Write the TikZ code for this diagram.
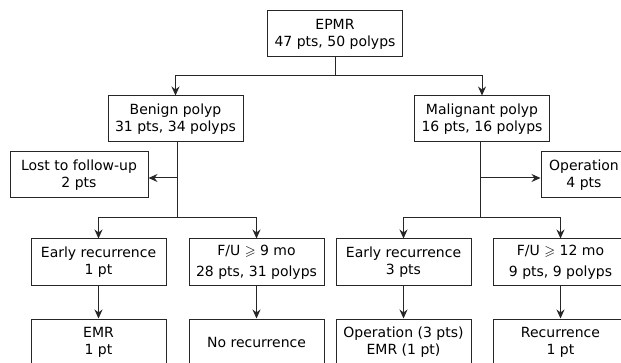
\documentclass[tikz,border=0pt]{standalone}
\usepackage{fontspec}
\setmainfont{DejaVu Sans}
\usepackage{amssymb}
\usetikzlibrary{arrows.meta}
\begin{document}
\begin{tikzpicture}[x=1pt,y=-1pt,
  box/.style={draw=black!85, line width=1pt, minimum width=135pt, minimum height=46pt,
    align=center, inner sep=0pt, font=\fontsize{14}{17}\selectfont},
  conn/.style={draw=black!85, line width=1pt},
  arr/.style={conn, -{Stealth[length=9pt,width=8pt,inset=3pt]}}]
\clip (0,0) rectangle (621,363);
\fill[white] (0,0) rectangle (621,363);
% nodes
\node[box] (epmr) at (335,34) {EPMR\\47 pts, 50 polyps};
\node[box] (benign) at (175.5,119) {Benign polyp\\31 pts, 34 polyps};
\node[box] (malig) at (482,119) {Malignant polyp\\16 pts, 16 polyps};
\node[box, minimum width=138pt] (lost) at (79,175) {Lost to follow-up\\2 pts};
\node[box, minimum width=86pt] (oper) at (584,175) {Operation\\4 pts};
\node[box, minimum height=47pt] (er1) at (98.5,262.5) {Early recurrence\\1 pt};
\node[box, minimum height=47pt] (fu9) at (256.5,262.5) {F/U $\geqslant$ 9 mo\\[4pt]28 pts, 31 polyps};
\node[box, minimum height=47pt] (er3) at (403.5,262.5) {Early recurrence\\3 pts};
\node[box, minimum height=47pt] (fu12) at (560.5,262.5) {F/U $\geqslant$ 12 mo\\[4pt]9 pts, 9 polyps};
\node[box, minimum height=47pt] (emr) at (98.5,342.5) {EMR\\1 pt};
\node[box, minimum height=47pt] (norec) at (256.5,342.5) {No recurrence};
\node[box, minimum height=47pt] (opemr) at (403.5,342.5) {Operation (3 pts)\\EMR (1 pt)};
\node[box, minimum height=47pt] (rec) at (560.5,342.5) {Recurrence\\1 pt};
% junctions
\path (epmr.south) ++(0,18) coordinate (j0);
\path (benign.south) ++(1.5,75) coordinate (j1);
\path (malig.south) ++(-2,75) coordinate (j2);
\path (benign.south) ++(1.5,0) coordinate (b0);
\path (malig.south) ++(-2,0) coordinate (m0);
\coordinate (la) at ([yshift=-3pt]lost.east);
\coordinate (oa) at ([yshift=-3pt]oper.west);
% connectors
\draw[conn] (epmr.south) -- (j0);
\draw[arr] (j0) -| (benign.north);
\draw[arr] (j0) -| (malig.north);
\draw[conn] (b0) -- (j1);
\draw[arr] (b0 |- la) -- (la);
\draw[arr] (j1) -| (er1.north);
\draw[arr] (j1) -| (fu9.north);
\draw[conn] (m0) -- (j2);
\draw[arr] (m0 |- oa) -- (oa);
\draw[arr] (j2) -| (er3.north);
\draw[arr] (j2) -| (fu12.north);
\draw[arr] (er1) -- (emr);
\draw[arr] (fu9) -- (norec);
\draw[arr] (er3) -- (opemr);
\draw[arr] (fu12) -- (rec);
\end{tikzpicture}
\end{document}
